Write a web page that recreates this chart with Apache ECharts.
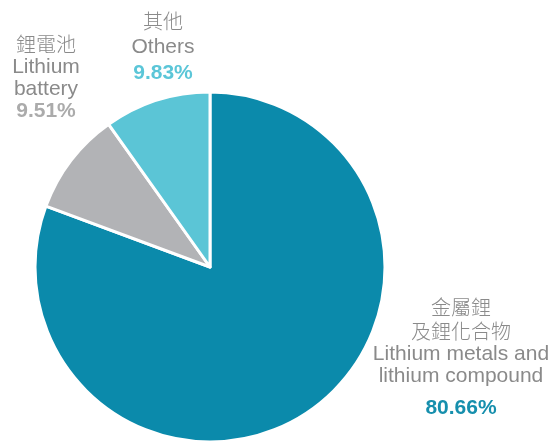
<!DOCTYPE html>
<html>
<head>
<meta charset="utf-8">
<script src="https://cdn.jsdelivr.net/npm/echarts@6/dist/echarts.min.js"></script>
<style>
  html, body { margin: 0; padding: 0; background: #ffffff; }
  #chart { width: 552px; height: 445px; }
</style>
</head>
<body>
<div id="chart"></div>
<script>
// Lithium use by category (shares in %)
const zhNames = [['金屬鋰', '及鋰化合物'], ['鋰電池'], ['其他']];
const enNames = [['Lithium metals and', 'lithium compound'], ['Lithium', 'battery'], ['Others']];
const shares = [80.66, 9.51, 9.83];

const sliceColors = ['#0b8aab', '#b2b3b6', '#5bc5d6'];
const pctColors = ['#168fad', '#ababab', '#5bc6d8'];

// top-centre anchor of each label block
const labelAnchors = [[461, 295], [46, 33], [163, 8]];
// line heights: [chinese, english, percentage]
const lineHeights = [[24, 22, 42], [23, 22, 22], [26, 26, 26]];

const latinFont = '"Liberation Sans", Arial, Helvetica, sans-serif';
const cjkFont = '"Noto Sans CJK TC", "Noto Sans CJK SC", sans-serif';
const textGrey = '#8a8a8a';

const rich = {};
shares.forEach(function (v, i) {
  rich['zh' + i] = { fontFamily: cjkFont, fontSize: 20, fontWeight: 300, color: textGrey, lineHeight: lineHeights[i][0], align: 'center' };
  rich['en' + i] = { fontFamily: latinFont, fontSize: 21, color: textGrey, lineHeight: lineHeights[i][1], align: 'center' };
  rich['pct' + i] = { fontFamily: latinFont, fontSize: 21, fontWeight: 'bold', color: pctColors[i], lineHeight: lineHeights[i][2], align: 'center' };
});

const chart = echarts.init(document.getElementById('chart'), null, { renderer: 'canvas' });

chart.setOption({
  backgroundColor: '#ffffff',
  animation: false,
  series: [{
    type: 'pie',
    center: [210, 267],
    radius: [0, 175],
    startAngle: 90,
    clockwise: true,
    avoidLabelOverlap: false,
    itemStyle: { borderColor: '#ffffff', borderWidth: 3 },
    emphasis: { disabled: true },
    data: shares.map(function (v, i) {
      return {
        name: zhNames[i].join(''),
        value: v,
        itemStyle: { color: sliceColors[i] }
      };
    }),
    label: {
      show: true,
      position: 'outside',
      rich: rich,
      formatter: function (p) {
        const i = p.dataIndex;
        const lines = zhNames[i].map(function (t) { return '{zh' + i + '|' + t + '}'; })
          .concat(enNames[i].map(function (t) { return '{en' + i + '|' + t + '}'; }))
          .concat(['{pct' + i + '|' + shares[i].toFixed(2) + '%}']);
        return lines.join('\n');
      }
    },
    labelLine: { show: false },
    labelLayout: function (params) {
      const a = labelAnchors[params.dataIndex];
      return { x: a[0], y: a[1], align: 'center', verticalAlign: 'top', hideOverlap: false };
    }
  }]
});
</script>
</body>
</html>
